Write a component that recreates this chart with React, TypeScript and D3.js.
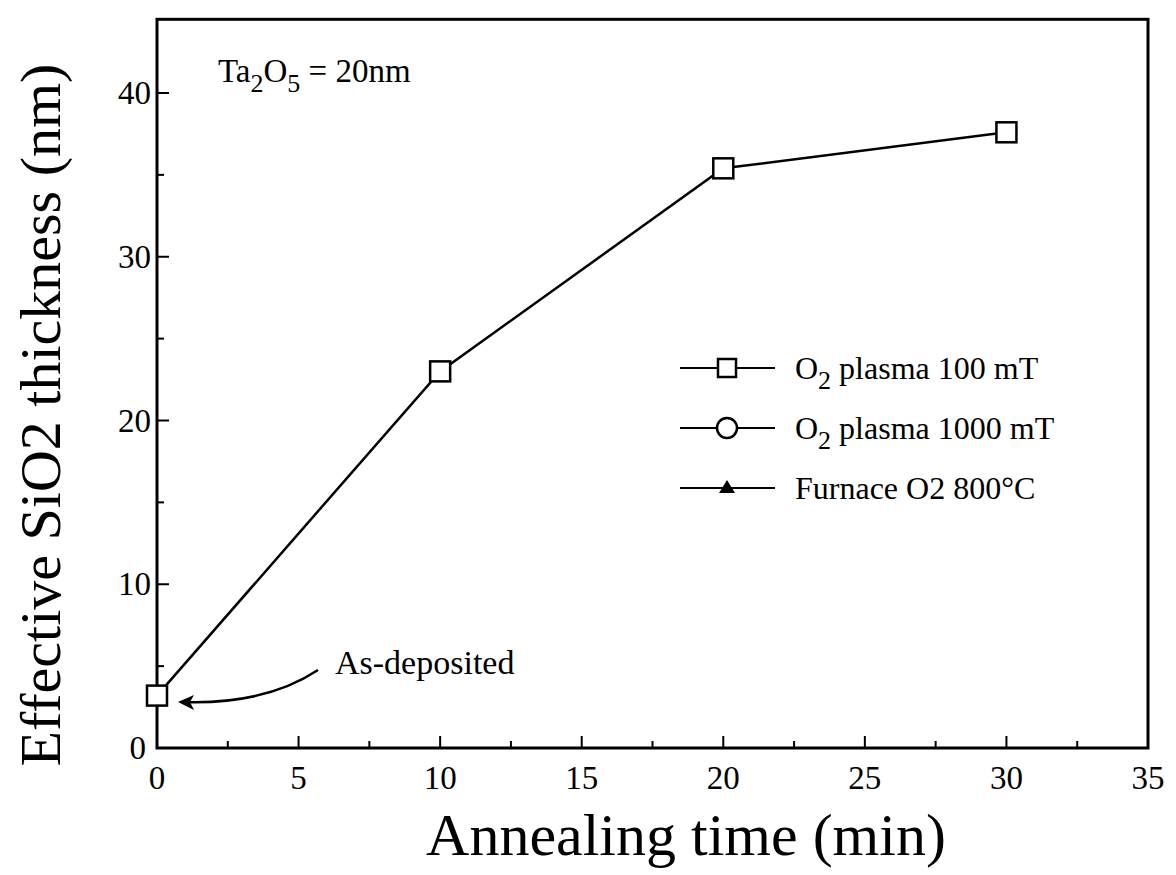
import React from 'react';
import * as d3 from 'd3';

const times = [0, 10, 20, 30];
const thickness100 = [3.2, 23.0, 35.4, 37.6];
const legendNames = ['plasma 100 mT', 'plasma 1000 mT', 'Furnace O2 800°C'];
const xTicks = [0, 5, 10, 15, 20, 25, 30, 35];
const yTicks = [0, 10, 20, 30, 40];

const W = 1176;
const H = 875;
const FONT = '"Liberation Serif", "DejaVu Serif", serif';

const App = () => {
  const x = d3.scaleLinear().domain([0, 35]).range([157, 1148]);
  const y = d3.scaleLinear().domain([0, 40]).range([748, 93]);
  const top = y(44.5);

  const pts = times.map((t, i) => [x(t), y(thickness100[i])] as [number, number]);
  const line = d3.line();

  const xMinor = d3.range(2.5, 35, 5);
  const yMinor = d3.range(5, 44, 10);

  const legX = 680;
  const legRows = [368, 428, 488];

  return (
    <svg width={W} height={H} style={{ position: 'absolute', left: 0, top: 0, background: '#fff' }}
      fontFamily={FONT}>
      {/* frame */}
      <rect x={x(0)} y={top} width={x(35) - x(0)} height={y(0) - top}
        fill="none" stroke="#000" strokeWidth={3} />

      {/* x ticks */}
      {xTicks.map(t => (
        <g key={'xt' + t}>
          <line x1={x(t)} x2={x(t)} y1={y(0)} y2={y(0) - 12} stroke="#000" strokeWidth={2} />
          <text x={x(t)} y={789} textAnchor="middle" fontSize={33}>{t}</text>
        </g>
      ))}
      {xMinor.map(t => (
        <line key={'xm' + t} x1={x(t)} x2={x(t)} y1={y(0)} y2={y(0) - 7} stroke="#000" strokeWidth={2} />
      ))}

      {/* y ticks */}
      {yTicks.map(t => (
        <g key={'yt' + t}>
          <line x1={x(0)} x2={x(0) + 12} y1={y(t)} y2={y(t)} stroke="#000" strokeWidth={2} />
          <text x={t === 0 ? 146 : 151} y={y(t) + 11} textAnchor="end" fontSize={33}>{t}</text>
        </g>
      ))}
      {yMinor.map(t => (
        <line key={'ym' + t} x1={x(0)} x2={x(0) + 7} y1={y(t)} y2={y(t)} stroke="#000" strokeWidth={2} />
      ))}

      {/* axis titles */}
      <text x={686} y={855} textAnchor="middle" fontSize={60}>Annealing time (min)</text>
      <text transform="translate(60,415) rotate(-90)" textAnchor="middle" fontSize={58}>
        Effective SiO2 thickness (nm)
      </text>

      {/* data */}
      <path d={line(pts) || ''} fill="none" stroke="#000" strokeWidth={2.5} />
      {pts.map((p, i) => (
        <rect key={'p' + i} x={p[0] - 10} y={p[1] - 10} width={20} height={20}
          fill="#fff" stroke="#000" strokeWidth={2.5} />
      ))}

      {/* annotation */}
      <text x={218} y={82} fontSize={33}>
        Ta<tspan dy={10} fontSize={26}>2</tspan><tspan dy={-10}>O</tspan>
        <tspan dy={10} fontSize={26}>5</tspan><tspan dy={-10}> = 20nm</tspan>
      </text>
      <text x={335} y={674} fontSize={34}>As-deposited</text>
      <path d="M318,670 Q265,705 182,702" fill="none" stroke="#000" strokeWidth={2.5} />
      <path d="M178,702 L194,695 L190,702 L194,710 Z" fill="#000" />

      {/* legend */}
      {legendNames.map((name, i) => {
        const cy = legRows[i];
        return (
          <g key={'lg' + i}>
            <line x1={legX} x2={legX + 95} y1={cy} y2={cy} stroke="#000" strokeWidth={2} />
            {i === 0 && (
              <rect x={legX + 38} y={cy - 9} width={18} height={18} fill="#fff" stroke="#000" strokeWidth={2.5} />
            )}
            {i === 1 && (
              <circle cx={legX + 47} cy={cy} r={10} fill="#fff" stroke="#000" strokeWidth={2.5} />
            )}
            {i === 2 && (
              <path d={`M${legX + 47},${cy - 8} L${legX + 55},${cy + 5} L${legX + 39},${cy + 5} Z`} fill="#000" />
            )}
            {i < 2 ? (
              <text x={legX + 115} y={cy + 11} fontSize={32}>
                O<tspan dy={10} fontSize={26}>2</tspan><tspan dy={-10}> {name}</tspan>
              </text>
            ) : (
              <text x={legX + 115} y={cy + 11} fontSize={32}>{name}</text>
            )}
          </g>
        );
      })}
    </svg>
  );
};

export default App;
